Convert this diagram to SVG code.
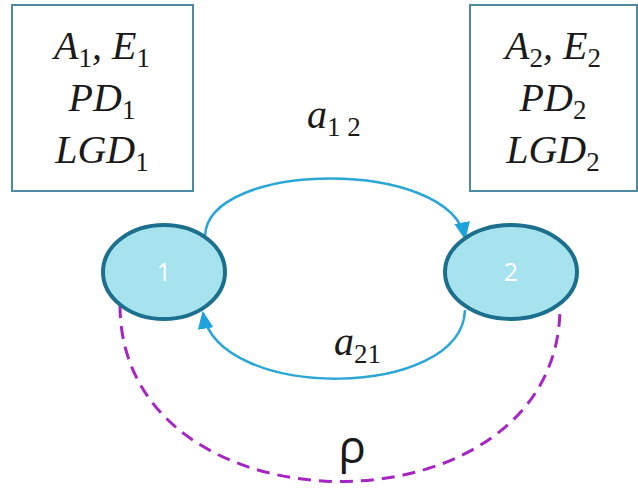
<svg xmlns="http://www.w3.org/2000/svg" width="638" height="492" viewBox="0 0 638 492">
<style>
.box{fill:#fff;stroke:#4f8aa3;stroke-width:2}
.m{font-family:"Liberation Serif","DejaVu Serif",serif;font-style:italic;font-size:40px;fill:#1a1a1a}
.sub{font-style:normal;font-size:27px}
.node{fill:#a6e3ee;stroke:#1d6f8e;stroke-width:4}
.nlab{font-family:"Open Sans","Liberation Sans",sans-serif;font-size:25px;fill:#fff;text-anchor:middle}
.arc{fill:none;stroke:#2ba6d6;stroke-width:2.5}
.dash{fill:none;stroke:#a526c4;stroke-width:3;stroke-dasharray:13 8}
</style>
<defs>
<marker id="ah" markerUnits="userSpaceOnUse" markerWidth="18" markerHeight="18" viewBox="0 0 16 16" refX="14" refY="8" orient="auto">
<path d="M0,1 L16,8 L0,15 Z" fill="#1fa3dc"/>
</marker>
</defs>
<g id="box1">
<rect class="box" x="12" y="5" width="181" height="186"/>
<text class="m" x="102" y="59" text-anchor="middle">A<tspan class="sub" dy="8">1</tspan><tspan dy="-8">, E</tspan><tspan class="sub" dy="8">1</tspan></text>
<text class="m" x="102" y="111" text-anchor="middle">PD<tspan class="sub" dy="8">1</tspan></text>
<text class="m" x="102" y="163" text-anchor="middle">LGD<tspan class="sub" dy="8">1</tspan></text>
</g>
<g id="box2">
<rect class="box" x="470" y="5" width="167" height="186"/>
<text class="m" x="553" y="59" text-anchor="middle">A<tspan class="sub" dy="8">2</tspan><tspan dy="-8">, E</tspan><tspan class="sub" dy="8">2</tspan></text>
<text class="m" x="553" y="111" text-anchor="middle">PD<tspan class="sub" dy="8">2</tspan></text>
<text class="m" x="553" y="163" text-anchor="middle">LGD<tspan class="sub" dy="8">2</tspan></text>
</g>
<g id="connectors">
<path class="arc" d="M205,236 C208,160 450,158 465,238" marker-end="url(#ah)"/>
<path class="arc" d="M465,310 C462,400 218,402 203,313" marker-end="url(#ah)"/>
<path class="dash" d="M120,305 C120,540 560,540 560,307"/>
<text class="m" x="307" y="128">a<tspan class="sub" dy="8">1 2</tspan></text>
<text class="m" x="334" y="355">a<tspan class="sub" dy="8">21</tspan></text>
<text x="352" y="463" text-anchor="middle" style="font-family:'Open Sans','DejaVu Sans',sans-serif;font-size:46px;fill:#1a1a1a">ρ</text>
</g>
<g id="node1">
<ellipse class="node" cx="164" cy="272" rx="61" ry="47"/>
<text class="nlab" x="164" y="281">1</text>
</g>
<g id="node2">
<ellipse class="node" cx="511" cy="272" rx="66" ry="47"/>
<text class="nlab" x="511" y="281">2</text>
</g>
</svg>
